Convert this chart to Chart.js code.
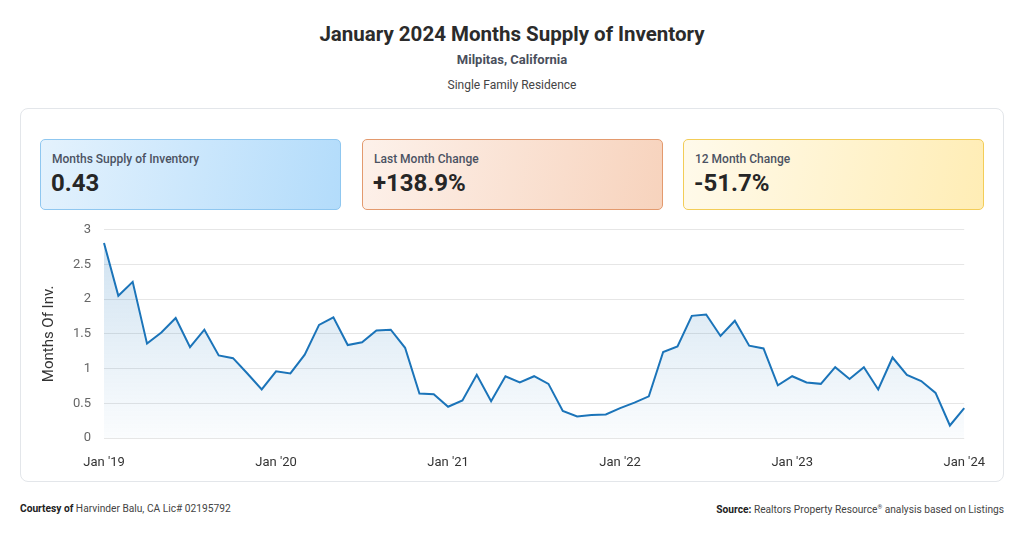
<!DOCTYPE html>
<html>
<head>
<meta charset="utf-8">
<script src="https://cdn.jsdelivr.net/npm/chart.js@4.4.0/dist/chart.umd.min.js"></script>
<style>
  html, body { margin: 0; padding: 0; background: #fff; }
  body { width: 1024px; height: 537px; position: relative; font-family: Roboto, "Noto Sans", sans-serif; color: #333; overflow: hidden; }
  .titulo { position: absolute; top: 22px; left: 0; width: 1024px; text-align: center; font-size: 20.5px; font-weight: 700; color: #2b2b2b; }
  .sub { position: absolute; top: 52px; left: 0; width: 1024px; text-align: center; font-size: 13px; font-weight: 700; color: #4a4f5c; }
  .sub2 { position: absolute; top: 78px; left: 0; width: 1024px; text-align: center; font-size: 12px; color: #444; }
  .card { position: absolute; left: 20px; top: 108px; width: 982px; height: 372px; border: 1px solid #e3e6ea; border-radius: 8px; }
  .kpi { position: absolute; top: 139px; width: 301px; height: 71px; border-radius: 5px; box-sizing: border-box; }
  .kpi .rot { position: absolute; left: 11px; top: 12px; font-size: 12px; font-weight: 500; color: #4b5262; }
  .kpi .valor { position: absolute; left: 10px; top: 29px; font-size: 24px; font-weight: 700; color: #262626; }
  #k1 { left: 40px; background: linear-gradient(100deg, #e4f2fd, #b3dcfb); border: 1px solid #8fc7f0; }
  #k2 { left: 362px; background: linear-gradient(100deg, #fdf1ea, #f7d3bd); border: 1px solid #e39a6e; }
  #k3 { left: 683px; background: linear-gradient(100deg, #fffaeb, #ffedb5); border: 1px solid #f3cd58; }
  #wrap { position: absolute; left: 30px; top: 209px; width: 964px; height: 261px; }
  .rodape { position: absolute; top: 503px; font-size: 10.2px; color: #444; }
  .rodape b { color: #222; }
</style>
</head>
<body>
<div class="titulo">January 2024 Months Supply of Inventory</div>
<div class="sub">Milpitas, California</div>
<div class="sub2">Single Family Residence</div>
<div class="card"></div>
<div class="kpi" id="k1"><div class="rot">Months Supply of Inventory</div><div class="valor">0.43</div></div>
<div class="kpi" id="k2"><div class="rot">Last Month Change</div><div class="valor">+138.9%</div></div>
<div class="kpi" id="k3"><div class="rot">12 Month Change</div><div class="valor">-51.7%</div></div>
<div id="wrap"><canvas id="grafico"></canvas></div>
<div class="rodape" style="left:20px;"><b>Courtesy of</b> Harvinder Balu, CA Lic# 02195792</div>
<div class="rodape" style="right:20px;"><b>Source:</b> Realtors Property Resource<sup style="font-size:6px">®</sup> analysis based on Listings</div>

<script>
// meses (Jan '19 .. Jan '24)
const meses = [
  "Jan '19","Feb '19","Mar '19","Apr '19","May '19","Jun '19","Jul '19","Aug '19","Sep '19","Oct '19","Nov '19","Dec '19",
  "Jan '20","Feb '20","Mar '20","Apr '20","May '20","Jun '20","Jul '20","Aug '20","Sep '20","Oct '20","Nov '20","Dec '20",
  "Jan '21","Feb '21","Mar '21","Apr '21","May '21","Jun '21","Jul '21","Aug '21","Sep '21","Oct '21","Nov '21","Dec '21",
  "Jan '22","Feb '22","Mar '22","Apr '22","May '22","Jun '22","Jul '22","Aug '22","Sep '22","Oct '22","Nov '22","Dec '22",
  "Jan '23","Feb '23","Mar '23","Apr '23","May '23","Jun '23","Jul '23","Aug '23","Sep '23","Oct '23","Nov '23","Dec '23",
  "Jan '24"
];

// meses de estoque
const estoque = [
  2.81, 2.05, 2.25, 1.36, 1.52, 1.73, 1.31, 1.56, 1.19, 1.15, 0.93, 0.70,
  0.96, 0.93, 1.20, 1.63, 1.74, 1.34, 1.38, 1.55, 1.56, 1.30, 0.64, 0.63,
  0.45, 0.54, 0.91, 0.53, 0.89, 0.80, 0.89, 0.78, 0.39, 0.31, 0.33, 0.34,
  0.43, 0.51, 0.60, 1.24, 1.32, 1.76, 1.78, 1.47, 1.69, 1.33, 1.29, 0.76,
  0.89, 0.80, 0.78, 1.02, 0.85, 1.02, 0.70, 1.16, 0.91, 0.82, 0.65, 0.18,
  0.43
];

const ticksY = [0, 0.5, 1, 1.5, 2, 2.5, 3];

const ctx = document.getElementById("grafico").getContext("2d");

new Chart(ctx, {
  type: "line",
  data: {
    labels: meses,
    datasets: [{
      label: "Months Of Inv.",
      data: estoque,
      borderColor: "#1b74b9",
      borderWidth: 2,
      pointRadius: 0,
      tension: 0,
      fill: "origin",
      backgroundColor: function(c) {
        const area = c.chart.chartArea;
        if (!area) return "rgba(27,116,185,0.15)";
        const g = c.chart.ctx.createLinearGradient(0, area.top, 0, area.bottom);
        g.addColorStop(0, "rgba(27,116,185,0.22)");
        g.addColorStop(1, "rgba(27,116,185,0.02)");
        return g;
      }
    }]
  },
  options: {
    responsive: true,
    maintainAspectRatio: false,
    animation: false,
    layout: { padding: { top: 0, right: 22, bottom: 0, left: 0 } },
    plugins: {
      legend: { display: false },
      tooltip: { enabled: false }
    },
    scales: {
      x: {
        grid: { display: false },
        border: { display: false },
        ticks: {
          autoSkip: false,
          maxRotation: 0,
          padding: 9,
          color: "#333",
          font: { family: "Roboto", size: 13 },
          callback: function(v, i) { return i % 12 === 0 ? meses[i] : null; }
        },
        afterFit: function(s) { s.height = 32; }
      },
      y: {
        min: 0,
        max: 3,
        afterBuildTicks: function(s) { s.ticks = ticksY.map(v => ({ value: v })); },
        grid: { color: "#e6e6e6", drawTicks: false },
        border: { display: false },
        ticks: {
          padding: 13,
          color: "#666",
          font: { family: "Roboto", size: 13 },
          callback: function(v) { return String(Number(v)); }
        },
        title: {
          display: true,
          text: "Months Of Inv.",
          color: "#333",
          font: { family: "Roboto", size: 15 },
          padding: { top: 10, bottom: 0 }
        },
        afterFit: function(s) { s.width = 74; }
      }
    }
  }
});
</script>
</body>
</html>
